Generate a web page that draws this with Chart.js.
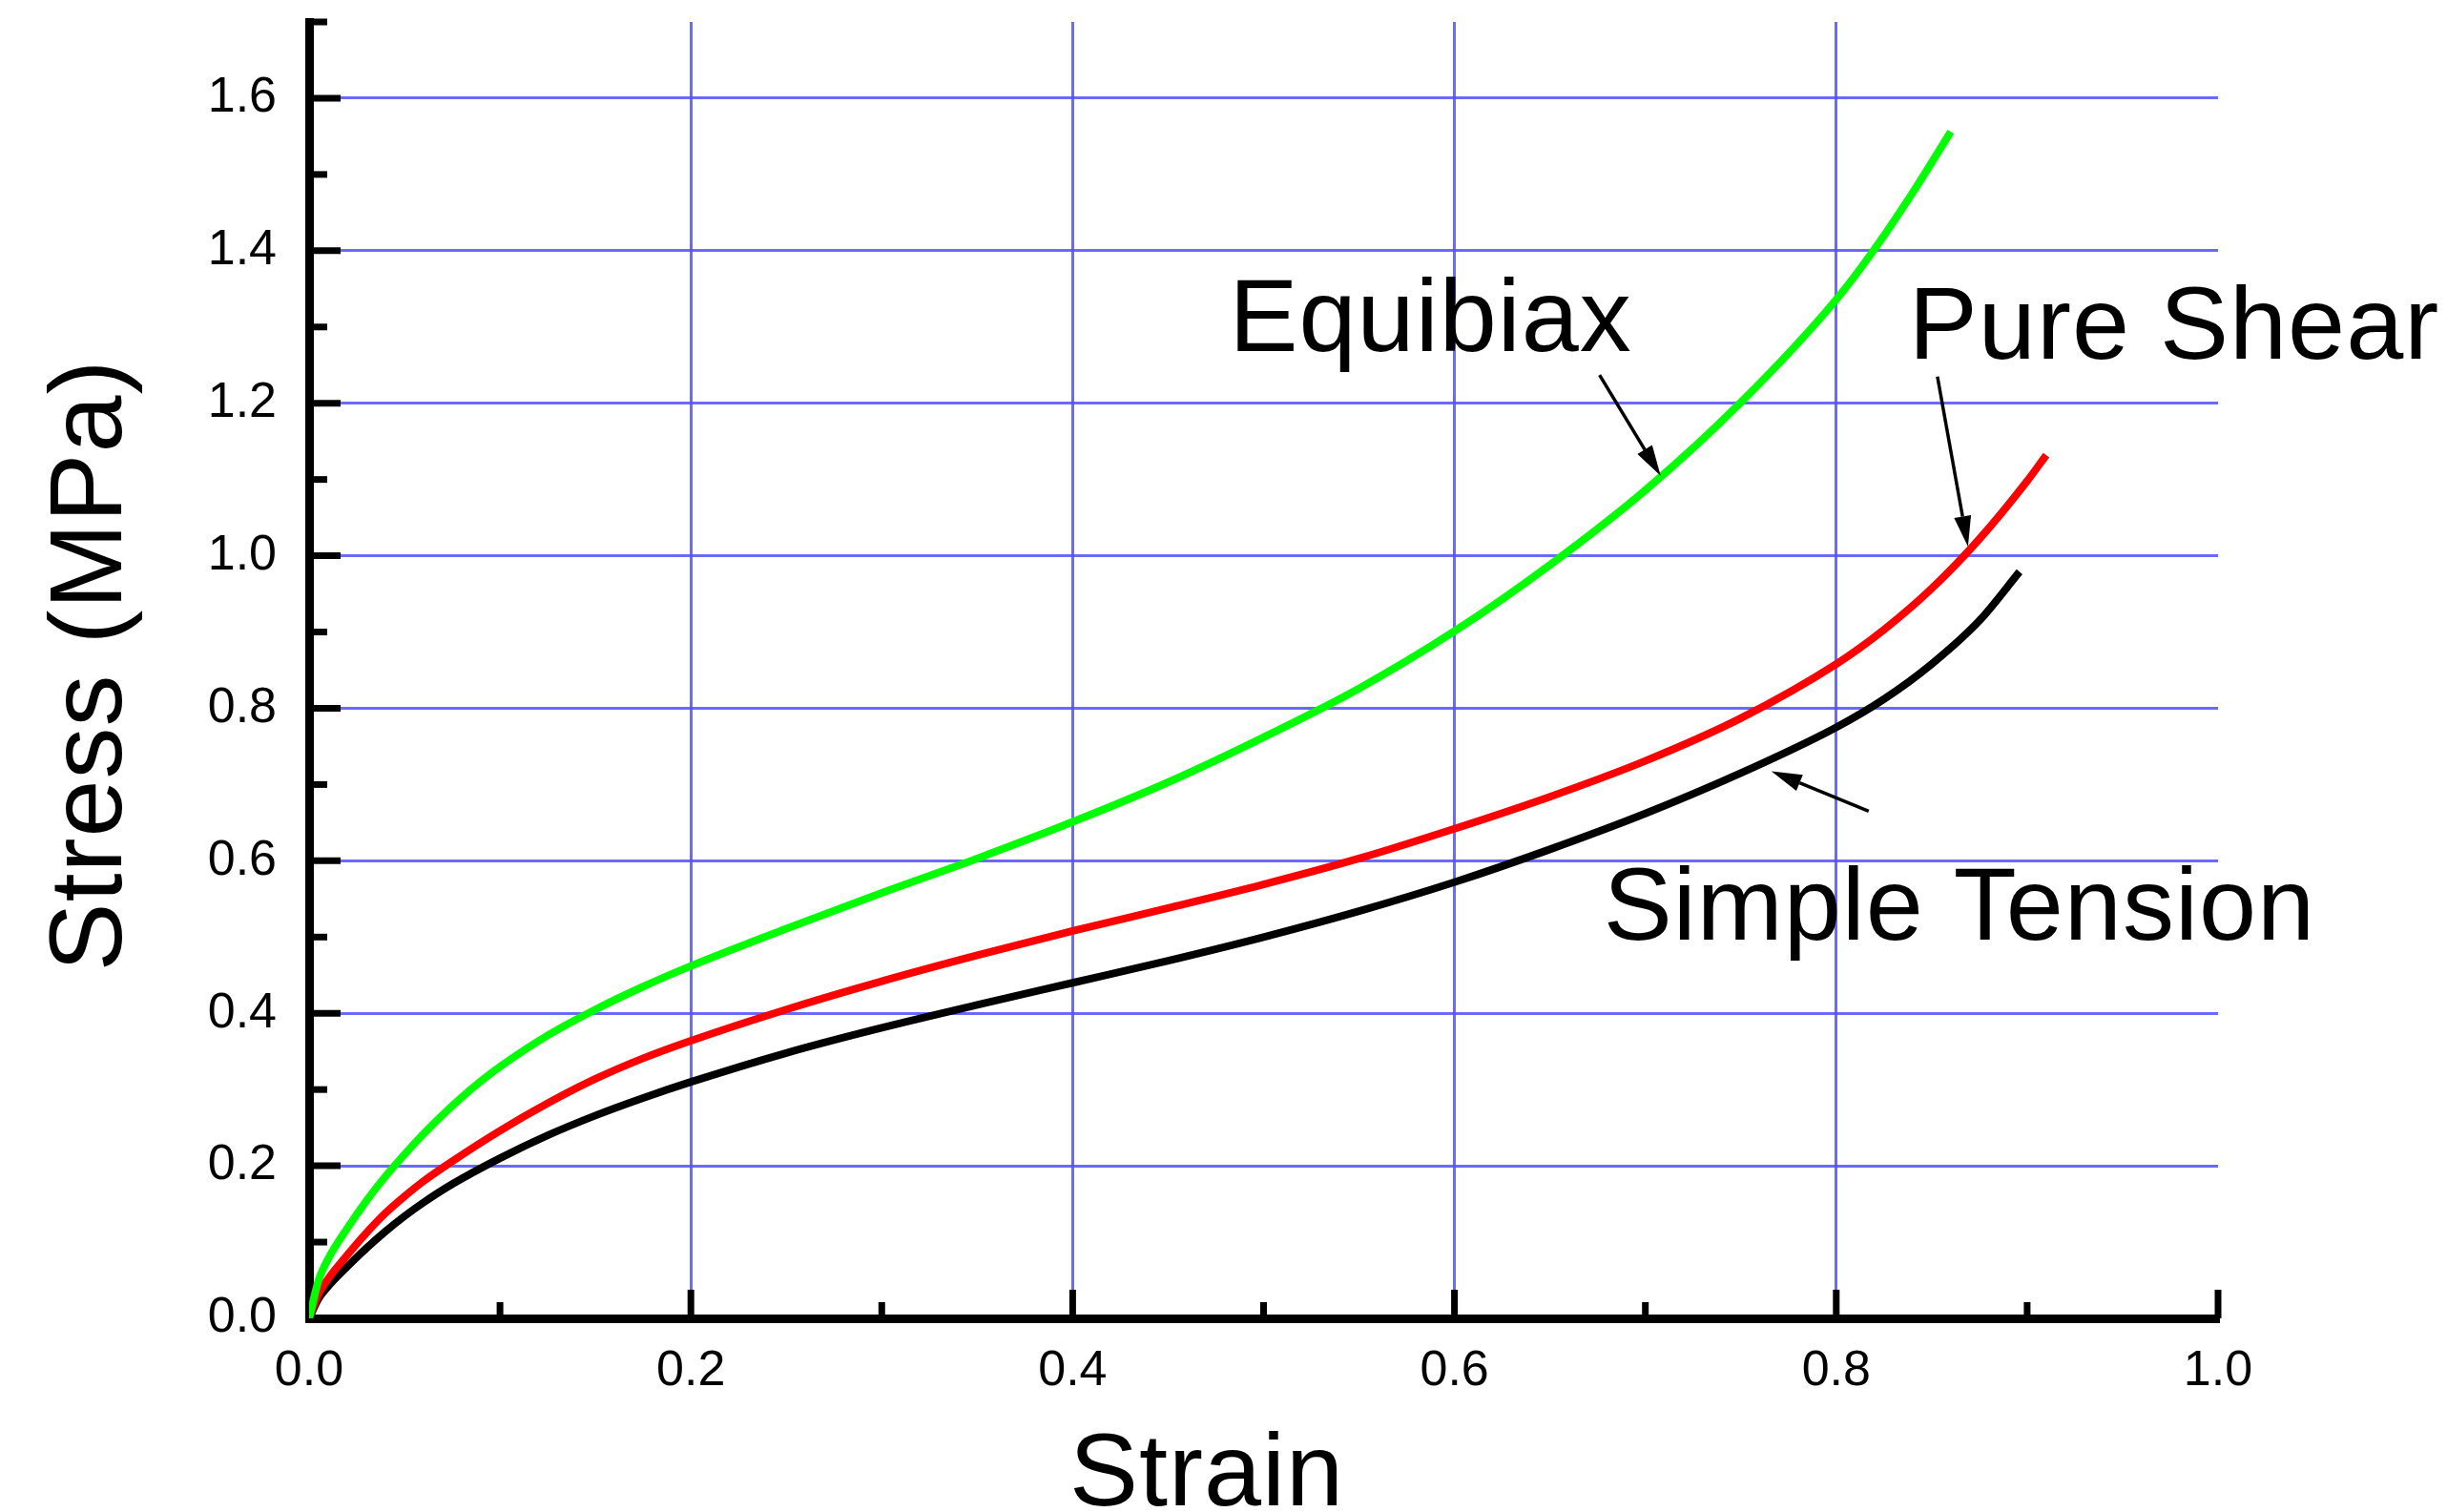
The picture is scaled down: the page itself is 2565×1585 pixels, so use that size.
<!DOCTYPE html>
<html>
<head>
<meta charset="utf-8">
<script src="https://cdn.jsdelivr.net/npm/chart.js@4.4.1/dist/chart.umd.min.js"></script>
<style>
  html, body { margin: 0; padding: 0; background: #ffffff; }
  canvas { display: block; }
</style>
</head>
<body>
<canvas id="chart" width="2565" height="1585"></canvas>
<script>
// ---------- data ----------
const xTicks = [0, 0.2, 0.4, 0.6, 0.8, 1.0];
const xMinorTicks = [0.1, 0.3, 0.5, 0.7, 0.9];
const yTicks = [0, 0.2, 0.4, 0.6, 0.8, 1.0, 1.2, 1.4, 1.6];
const yMinorTicks = [0.1, 0.3, 0.5, 0.7, 0.9, 1.1, 1.3, 1.5, 1.7];

const xTitle = 'Strain';
const yTitle = 'Stress (MPa)';

const seriesNames = ['Equibiax', 'Pure Shear', 'Simple Tension'];

const equibiaxStrain = [0, 0.005, 0.01, 0.02, 0.03, 0.04, 0.05, 0.06, 0.07, 0.08, 0.09, 0.1, 0.125, 0.15, 0.175, 0.2, 0.25, 0.3, 0.35, 0.4, 0.45, 0.5, 0.55, 0.6, 0.65, 0.7, 0.75, 0.8, 0.82, 0.84, 0.86];
const equibiaxStress = [0, 0.05, 0.078, 0.118, 0.154, 0.186, 0.215, 0.242, 0.267, 0.29, 0.311, 0.33, 0.371, 0.405, 0.435, 0.462, 0.511, 0.558, 0.603, 0.651, 0.703, 0.762, 0.826, 0.901, 0.988, 1.086, 1.201, 1.336, 1.402, 1.476, 1.556];

const pureShearStrain = [0, 0.005, 0.01, 0.02, 0.03, 0.04, 0.05, 0.06, 0.075, 0.1, 0.125, 0.15, 0.175, 0.2, 0.25, 0.3, 0.35, 0.4, 0.45, 0.5, 0.55, 0.6, 0.65, 0.7, 0.75, 0.8, 0.825, 0.85, 0.875, 0.9, 0.91];
const pureShearStress = [0, 0.032, 0.052, 0.083, 0.112, 0.138, 0.16, 0.18, 0.206, 0.246, 0.282, 0.314, 0.341, 0.364, 0.405, 0.442, 0.476, 0.508, 0.538, 0.569, 0.603, 0.642, 0.684, 0.731, 0.787, 0.858, 0.903, 0.957, 1.022, 1.098, 1.132];

const tensionStrain = [0, 0.005, 0.01, 0.02, 0.03, 0.04, 0.05, 0.06, 0.075, 0.1, 0.125, 0.15, 0.175, 0.2, 0.25, 0.3, 0.35, 0.4, 0.45, 0.5, 0.55, 0.6, 0.65, 0.7, 0.75, 0.8, 0.825, 0.85, 0.875, 0.896];
const tensionStress = [0, 0.026, 0.042, 0.068, 0.092, 0.114, 0.134, 0.152, 0.176, 0.21, 0.24, 0.266, 0.289, 0.31, 0.348, 0.381, 0.411, 0.44, 0.469, 0.5, 0.534, 0.572, 0.615, 0.662, 0.715, 0.775, 0.812, 0.858, 0.915, 0.979];

// annotation labels (text, anchor in data units: left x, baseline y)
const labelTexts = ['Equibiax', 'Pure Shear', 'Simple Tension'];
const labelX = [0.482, 0.838, 0.678];
const labelY = [1.268, 1.259, 0.496];
// arrows (from -> to, data units)
const arrowFromX = [0.676, 0.853, 0.817];
const arrowFromY = [1.237, 1.235, 0.665];
const arrowToX = [0.708, 0.869, 0.766];
const arrowToY = [1.105, 1.012, 0.7175];

// ---------- styles ----------
const FONT = "'Liberation Sans', Arial, sans-serif";
const GRID_COLOR = 'rgba(80, 80, 255, 0.85)';
const lineColors = ['#00ff00', '#ff0000', '#000000'];

function pts(xs, ys) { return xs.map((x, i) => ({ x: x, y: ys[i] })); }

const decorPlugin = {
  id: 'decor',
  afterDatasetsDraw(chart) {
    const ctx = chart.ctx;
    const xs = chart.scales.x, ys = chart.scales.y;
    const area = chart.chartArea;
    ctx.save();
    ctx.strokeStyle = '#000';
    ctx.lineCap = 'butt';
    // inward tick marks
    ctx.lineWidth = 7;
    xTicks.forEach(v => {
      if (v === 0) return;
      const px = xs.getPixelForValue(v);
      ctx.beginPath(); ctx.moveTo(px, area.bottom); ctx.lineTo(px, area.bottom - 30); ctx.stroke();
    });
    xMinorTicks.forEach(v => {
      const px = xs.getPixelForValue(v);
      ctx.beginPath(); ctx.moveTo(px, area.bottom); ctx.lineTo(px, area.bottom - 17); ctx.stroke();
    });
    yTicks.forEach(v => {
      if (v === 0) return;
      const py = ys.getPixelForValue(v);
      ctx.beginPath(); ctx.moveTo(area.left, py); ctx.lineTo(area.left + 33, py); ctx.stroke();
    });
    yMinorTicks.forEach(v => {
      const py = ys.getPixelForValue(v);
      ctx.beginPath(); ctx.moveTo(area.left, py); ctx.lineTo(area.left + 19, py); ctx.stroke();
    });

    // arrows
    ctx.fillStyle = '#000';
    ctx.lineWidth = 3.5;
    for (let i = 0; i < arrowFromX.length; i++) {
      const x1 = xs.getPixelForValue(arrowFromX[i]);
      const y1 = ys.getPixelForValue(arrowFromY[i]);
      const x2 = xs.getPixelForValue(arrowToX[i]);
      const y2 = ys.getPixelForValue(arrowToY[i]);
      const ang = Math.atan2(y2 - y1, x2 - x1);
      const headLen = 32, headHalf = 9;
      const bx = x2 - headLen * Math.cos(ang), by = y2 - headLen * Math.sin(ang);
      ctx.beginPath(); ctx.moveTo(x1, y1); ctx.lineTo(bx, by); ctx.stroke();
      ctx.beginPath();
      ctx.moveTo(x2, y2);
      ctx.lineTo(bx + headHalf * Math.sin(ang), by - headHalf * Math.cos(ang));
      ctx.lineTo(bx - headHalf * Math.sin(ang), by + headHalf * Math.cos(ang));
      ctx.closePath(); ctx.fill();
    }

    // annotation labels
    ctx.font = '108px ' + FONT;
    try { ctx.letterSpacing = '1px'; } catch (e) {}
    ctx.textAlign = 'left';
    ctx.textBaseline = 'alphabetic';
    for (let i = 0; i < labelTexts.length; i++) {
      ctx.fillText(labelTexts[i], xs.getPixelForValue(labelX[i]), ys.getPixelForValue(labelY[i]));
    }

    // axis titles
    ctx.textAlign = 'center';
    ctx.fillText(xTitle, area.left + 941, 1578);
    ctx.save();
    ctx.translate(127, (area.top + area.bottom) / 2 - 5);
    ctx.rotate(-Math.PI / 2);
    ctx.textBaseline = 'alphabetic';
    ctx.fillText(yTitle, 0, 0);
    ctx.restore();
    try { ctx.letterSpacing = '0px'; } catch (e) {}
    ctx.restore();
  }
};

new Chart(document.getElementById('chart'), {
  type: 'line',
  data: {
    datasets: [
      { label: seriesNames[0], data: pts(equibiaxStrain, equibiaxStress), borderColor: lineColors[0] },
      { label: seriesNames[1], data: pts(pureShearStrain, pureShearStress), borderColor: lineColors[1] },
      { label: seriesNames[2], data: pts(tensionStrain, tensionStress), borderColor: lineColors[2] }
    ]
  },
  options: {
    responsive: false,
    animation: false,
    devicePixelRatio: 1,
    layout: { padding: { left: 0, top: 23, right: 240, bottom: 0 } },
    elements: {
      point: { radius: 0 },
      line: { borderWidth: 8, fill: false, cubicInterpolationMode: 'monotone', capStyle: 'butt', joinStyle: 'round' }
    },
    plugins: { legend: { display: false }, tooltip: { enabled: false }, title: { display: false } },
    scales: {
      x: {
        type: 'linear', min: 0, max: 1,
        afterBuildTicks: s => { s.ticks = xTicks.map(v => ({ value: v })); },
        afterFit: s => { s.height = 203; s.paddingLeft = 0; s.paddingRight = 0; s.paddingTop = 0; s.paddingBottom = 0; },
        ticks: { autoSkip: false, maxRotation: 0, padding: 24, color: '#000', font: { family: FONT, size: 52 }, callback: v => Number(v).toFixed(1) },
        grid: { drawTicks: false, lineWidth: 3, color: c => (c.tick && (c.tick.value === 0 || c.tick.value === 1)) ? 'rgba(0,0,0,0)' : GRID_COLOR },
        border: { display: true, color: '#000', width: 9 }
      },
      y: {
        type: 'linear', min: 0, max: 1.7,
        afterBuildTicks: s => { s.ticks = yTicks.map(v => ({ value: v })); },
        afterFit: s => { s.width = 324; s.paddingLeft = 0; s.paddingRight = 0; s.paddingTop = 0; s.paddingBottom = 0; },
        ticks: { autoSkip: false, padding: 34, color: '#000', font: { family: FONT, size: 52 }, callback: v => Number(v).toFixed(1) },
        grid: { drawTicks: false, lineWidth: 3, color: c => (c.tick && c.tick.value === 0) ? 'rgba(0,0,0,0)' : GRID_COLOR },
        border: { display: true, color: '#000', width: 9 }
      }
    }
  },
  plugins: [decorPlugin]
});
</script>
</body>
</html>
